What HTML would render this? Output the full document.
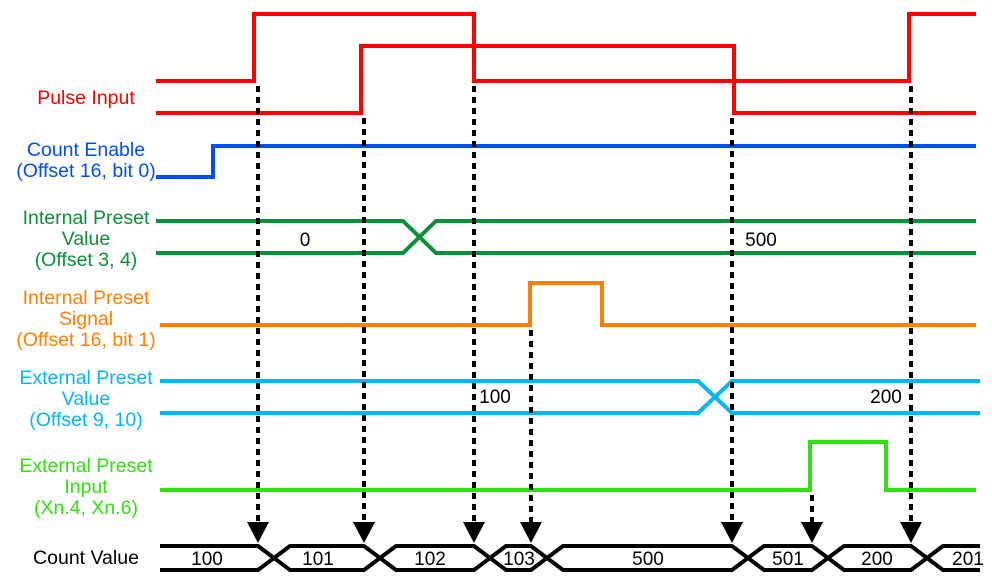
<!DOCTYPE html>
<html><head><meta charset="utf-8"><style>
html,body{margin:0;padding:0;background:#fff;}
svg{display:block;font-family:"Liberation Sans",Arial,sans-serif;}
</style></head><body>
<svg width="992" height="584" viewBox="0 0 992 584" xmlns="http://www.w3.org/2000/svg">
<g font-size="19.5" text-anchor="middle">
<text x="86" y="104" fill="#ff0000">Pulse Input</text>
<text x="86" y="156" fill="#0050f0">Count Enable</text>
<text x="86" y="177" fill="#0050f0">(Offset 16, bit 0)</text>
<text x="86" y="224" fill="#0a9038">Internal Preset</text>
<text x="86" y="245" fill="#0a9038">Value</text>
<text x="86" y="266" fill="#0a9038">(Offset 3, 4)</text>
<text x="86" y="304" fill="#ff8000">Internal Preset</text>
<text x="86" y="325" fill="#ff8000">Signal</text>
<text x="86" y="346" fill="#ff8000">(Offset 16, bit 1)</text>
<text x="86" y="384" fill="#00b8f8">External Preset</text>
<text x="86" y="405" fill="#00b8f8">Value</text>
<text x="86" y="426" fill="#00b8f8">(Offset 9, 10)</text>
<text x="86" y="472" fill="#30e010">External Preset</text>
<text x="86" y="493" fill="#30e010">Input</text>
<text x="86" y="514" fill="#30e010">(Xn.4, Xn.6)</text>
<text x="86" y="564" fill="#000">Count Value</text>
</g>
<g fill="none" stroke-width="4" stroke-linejoin="miter">
<polyline stroke="#ff0000" points="156,81 254,81 254,14 474,14 474,81 909,81 909,14 976,14"/>
<polyline stroke="#ff0000" points="156,113 361,113 361,46 734,46 734,113 976,113"/>
<polyline stroke="#0050f0" points="156,177 213,177 213,146 976,146"/>
<polyline stroke="#0a9038" points="156,221 403,221 436,253 976,253"/>
<polyline stroke="#0a9038" points="156,253 403,253 436,221 976,221"/>
<polyline stroke="#ff8000" points="160,325 530,325 530,283 602,283 602,325 976,325"/>
<polyline stroke="#00b8f8" points="160,381 698,381 732,413 980,413"/>
<polyline stroke="#00b8f8" points="160,413 698,413 732,381 980,381"/>
<polyline stroke="#30e010" points="160,490 810,490 810,442 886,442 886,490 976,490"/>
</g>
<g stroke="#000" stroke-width="4" stroke-dasharray="6,5" fill="none">
<line x1="258" y1="86" x2="258" y2="522"/>
<line x1="364" y1="118" x2="364" y2="522"/>
<line x1="474" y1="86" x2="474" y2="522"/>
<line x1="531" y1="330" x2="531" y2="522"/>
<line x1="732" y1="118" x2="732" y2="522"/>
<line x1="812" y1="495" x2="812" y2="522"/>
<line x1="911" y1="86" x2="911" y2="522"/>
</g>
<g fill="#000">
<polygon points="247,522 269,522 258,543"/>
<polygon points="353,522 375,522 364,543"/>
<polygon points="463,522 485,522 474,543"/>
<polygon points="520,522 542,522 531,543"/>
<polygon points="721,522 743,522 732,543"/>
<polygon points="801,522 823,522 812,543"/>
<polygon points="900,522 922,522 911,543"/>
</g>
<g fill="none" stroke="#000" stroke-width="4">
<polyline points="160,546 258,546 290,570 364,570 396,546 474,546 506,570 531,570 563,546 732,546 764,570 812,570 844,546 911,546 943,570 980,570"/>
<polyline points="160,570 258,570 290,546 364,546 396,570 474,570 506,546 531,546 563,570 732,570 764,546 812,546 844,570 911,570 943,546 980,546"/>
</g>
<g font-size="19" text-anchor="middle" fill="#000">
<text x="207" y="565">100</text>
<text x="318" y="565">101</text>
<text x="430" y="565">102</text>
<text x="519" y="565">103</text>
<text x="648" y="565">500</text>
<text x="788" y="565">501</text>
<text x="877" y="565">200</text>
<text x="968" y="565">201</text>
<text x="305" y="246">0</text>
<text x="761" y="246">500</text>
<text x="495" y="403">100</text>
<text x="886" y="403">200</text>
</g>
</svg>
</body></html>
